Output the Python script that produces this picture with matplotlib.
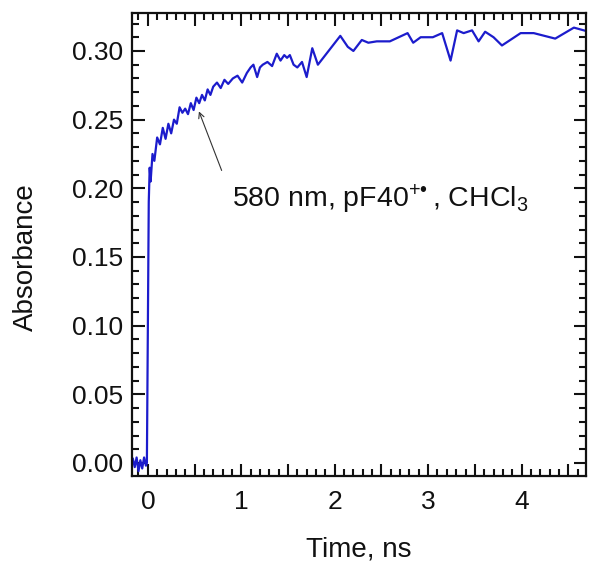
import numpy as np
import matplotlib.pyplot as plt
from matplotlib.ticker import MultipleLocator, FuncFormatter

plt.rcParams['font.family'] = ['Liberation Sans', 'DejaVu Sans']
plt.rcParams['mathtext.fontset'] = 'custom'
plt.rcParams['mathtext.rm'] = 'Liberation Sans'
plt.rcParams['mathtext.it'] = 'Liberation Sans'

# time (ns) and absorbance
time = [-0.16, -0.14, -0.12, -0.10, -0.08, -0.06, -0.04, -0.02, -0.01,
        0.01, 0.02, 0.03, 0.05, 0.07, 0.10, 0.13, 0.16, 0.19, 0.22, 0.25,
        0.28, 0.31, 0.34, 0.37, 0.40, 0.43, 0.46, 0.49, 0.52, 0.55, 0.58,
        0.61, 0.64, 0.67, 0.70, 0.74, 0.78, 0.82, 0.86, 0.91, 0.96, 1.01,
        1.06, 1.10, 1.13, 1.17, 1.20, 1.23, 1.28, 1.33, 1.38, 1.42, 1.46,
        1.49, 1.52, 1.56, 1.60, 1.65, 1.70, 1.76, 1.82, 2.06, 2.14, 2.20,
        2.29, 2.36, 2.45, 2.59, 2.78, 2.84, 2.92, 3.05, 3.15, 3.24, 3.31,
        3.38, 3.47, 3.54, 3.61, 3.70, 3.79, 3.99, 4.13, 4.36, 4.56, 4.72]
absorbance = [0.003, -0.003, 0.004, -0.006, 0.002, -0.004, 0.004, -0.002, 0.0,
              0.19, 0.215, 0.205, 0.225, 0.22, 0.237, 0.232, 0.244, 0.236, 0.247, 0.24,
              0.25, 0.247, 0.259, 0.255, 0.258, 0.254, 0.262, 0.257, 0.266, 0.262, 0.268,
              0.264, 0.272, 0.268, 0.274, 0.277, 0.273, 0.279, 0.276, 0.280, 0.282, 0.277,
              0.284, 0.288, 0.290, 0.281, 0.288, 0.290, 0.292, 0.289, 0.298, 0.293, 0.297,
              0.295, 0.297, 0.290, 0.288, 0.292, 0.281, 0.302, 0.290, 0.311, 0.303, 0.300,
              0.308, 0.306, 0.307, 0.307, 0.313, 0.306, 0.310, 0.310, 0.313, 0.293, 0.315,
              0.313, 0.315, 0.307, 0.314, 0.310, 0.304, 0.313, 0.313, 0.309, 0.317, 0.314]

fig = plt.figure(figsize=(5.89, 5.62), dpi=100)
ax = fig.add_axes([0.224, 0.153, 0.771, 0.824])

ax.plot(time, absorbance, color='#1c1ccc', lw=1.6)

ax.set_xlim(-0.17, 4.69)
ax.set_ylim(-0.0095, 0.3277)

ax.xaxis.set_major_locator(MultipleLocator(0.5))
ax.xaxis.set_minor_locator(MultipleLocator(0.1))
ax.xaxis.set_major_formatter(FuncFormatter(
    lambda v, p: '{:d}'.format(int(round(v))) if abs(v - round(v)) < 1e-6 else ''))
ax.yaxis.set_major_locator(MultipleLocator(0.05))
ax.yaxis.set_minor_locator(MultipleLocator(0.01))
ax.yaxis.set_major_formatter(FuncFormatter(lambda v, p: '{:.2f}'.format(v)))

ax.tick_params(which='both', direction='in', top=True, right=True,
               labelsize=19, width=1.5, colors='#111111')
ax.tick_params(which='major', length=9)
ax.tick_params(which='minor', length=5)
ax.tick_params(axis='x', pad=10)
ax.tick_params(axis='y', pad=6)
for s in ax.spines.values():
    s.set_linewidth(1.6)
    s.set_color('#111111')

ax.set_xlabel('Time, ns', fontsize=20, labelpad=16, color='#111111')
ax.set_ylabel('Absorbance', fontsize=20, color='#111111')
ax.yaxis.set_label_coords(-0.205, 0.473)

# arrow from the label to the curve
ax.annotate('', xy=(0.547, 0.256), xytext=(0.79, 0.213),
            arrowprops=dict(arrowstyle='->', color='#333333', lw=0.8,
                            shrinkA=0, shrinkB=0))
ax.text(0.90, 0.186, '580 nm, pF40$^{+\u2022\\;}$, CHCl$_3$', fontsize=20.5,
        va='baseline', ha='left', color='#111111')

fig.savefig('out.png', dpi=100)
